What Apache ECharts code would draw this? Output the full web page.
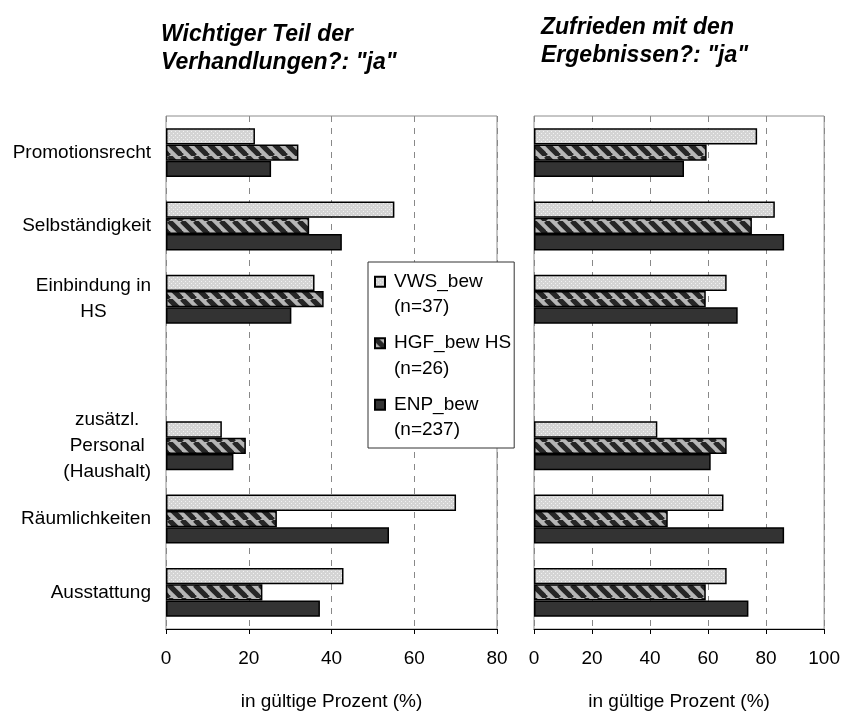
<!DOCTYPE html>
<html>
<head>
<meta charset="utf-8">
<script src="https://cdn.jsdelivr.net/npm/echarts@6/dist/echarts.min.js"></script>
<style>
  html, body { margin: 0; padding: 0; background: #fff; }
  #chart { width: 843px; height: 716px; }
</style>
</head>
<body>
<div id="chart"></div>
<script>
// Kategorien (die leere Kategorie ist die Lücke im Diagramm)
const categories = ['Promotionsrecht', 'Selbständigkeit', 'Einbindung in\nHS', '', 'zusätzl.\nPersonal\n(Haushalt)', 'Räumlichkeiten', 'Ausstattung']
const seriesNames = ['VWS_bew\n(n=37)', 'HGF_bew HS\n(n=26)', 'ENP_bew\n(n=237)']

// Wichtiger Teil der Verhandlungen?: "ja"
const wichtigVWS = [21.5, 55.2, 35.9, null, 13.5, 70.1, 42.9]
const wichtigHGF = [32.0, 34.6, 38.1, null, 19.3, 26.8, 23.3]
const wichtigENP = [25.4, 42.5, 30.3, null, 16.3, 53.9, 37.2]

// Zufrieden mit den Ergebnissen?: "ja"
const zufriedenVWS = [76.9, 83.0, 66.4, null, 42.5, 65.3, 66.4]
const zufriedenHGF = [59.5, 75.1, 59.2, null, 66.4, 46.1, 59.2]
const zufriedenENP = [51.7, 86.2, 70.2, null, 60.9, 86.2, 73.9]

const font = '"Liberation Sans", Arial, sans-serif'

// Füllmuster: gepunktet, schraffiert
const makeDots = () => {
  const c = document.createElement('canvas')
  c.width = 4
  c.height = 4
  const ctx = c.getContext('2d')
  ctx.fillStyle = '#d4d4d4'
  ctx.fillRect(0, 0, 4, 4)
  ctx.fillStyle = '#f2f2f2'
  ctx.fillRect(1, 1, 1, 1)
  ctx.fillRect(3, 3, 1, 1)
  return c
}
const makeStripes = () => {
  const p = 13
  const c = document.createElement('canvas')
  c.width = p
  c.height = p
  const ctx = c.getContext('2d')
  ctx.fillStyle = '#b6b6b6'
  ctx.fillRect(0, 0, p, p)
  ctx.strokeStyle = '#262626'
  ctx.lineWidth = 5.2
  for (let k = -1; k <= 1; k++) {
    ctx.beginPath()
    ctx.moveTo(k * p, 0)
    ctx.lineTo(k * p + p, p)
    ctx.stroke()
  }
  return c
}

const fills = [
  { image: makeDots(), repeat: 'repeat' },
  { image: makeStripes(), repeat: 'repeat' },
  '#333333',
]

const makeXAxis = (gridIndex, max) => ({
  gridIndex,
  type: 'value',
  min: 0,
  max,
  interval: 20,
  name: 'in gültige Prozent (%)',
  nameLocation: 'middle',
  nameGap: 63,
  nameTextStyle: { fontSize: 19, color: '#000', fontFamily: font },
  axisLine: { show: true, lineStyle: { color: '#000', width: 1 } },
  axisTick: { show: true, length: 5, lineStyle: { color: '#000' } },
  axisLabel: { fontSize: 19, color: '#000', fontFamily: font, margin: 20 },
  splitLine: { show: true, lineStyle: { color: '#888', type: [6, 6], width: 1 } },
})

const makeYAxis = (gridIndex, showLabels) => ({
  gridIndex,
  type: 'category',
  inverse: true,
  data: categories,
  axisLine: { show: false },
  axisTick: { show: false },
  axisLabel: {
    show: showLabels,
    margin: 15,
    formatter: (v) => (v ? '{c|' + v + '}' : ''),
    rich: {
      c: { align: 'center', fontSize: 19, lineHeight: 26, color: '#000', fontFamily: font },
    },
  },
})

const makeBar = (name, data, idx, axisIndex) => ({
  name,
  type: 'bar',
  xAxisIndex: axisIndex,
  yAxisIndex: axisIndex,
  data,
  barWidth: 16.3,
  barGap: '0%',
  itemStyle: { color: fills[idx], borderColor: '#000', borderWidth: 1.5 },
})

const chart = echarts.init(document.getElementById('chart'))
chart.setOption({
  animation: false,
  textStyle: { fontFamily: font },
  title: [
    {
      text: 'Wichtiger Teil der\nVerhandlungen?: "ja"',
      left: 156,
      top: 16,
      textStyle: { fontSize: 23, fontWeight: 'bold', fontStyle: 'italic', lineHeight: 28, color: '#000', fontFamily: font },
    },
    {
      text: 'Zufrieden mit den\nErgebnissen?: "ja"',
      left: 536,
      top: 9,
      textStyle: { fontSize: 23, fontWeight: 'bold', fontStyle: 'italic', lineHeight: 28, color: '#000', fontFamily: font },
    },
  ],
  legend: {
    data: seriesNames,
    orient: 'vertical',
    left: 368,
    top: 262,
    padding: [7, 3, 5, 6],
    itemGap: 10.5,
    itemWidth: 14,
    itemHeight: 35.5,
    icon: 'path://M0 0H10V10H0Z M14 35.5',
    backgroundColor: '#fff',
    borderColor: '#333',
    borderWidth: 1,
    borderRadius: 0,
    textStyle: { fontSize: 19, lineHeight: 25.5, color: '#000', fontFamily: font },
  },
  grid: [
    { left: 166, right: 346, top: 116, bottom: 85, show: true, borderColor: '#8c8c8c', borderWidth: 1 },
    { left: 534, right: 15.5, top: 116, bottom: 85, show: true, borderColor: '#8c8c8c', borderWidth: 1 },
  ],
  xAxis: [makeXAxis(0, 80), makeXAxis(1, 100)],
  yAxis: [makeYAxis(0, true), makeYAxis(1, false)],
  series: [
    makeBar(seriesNames[0], wichtigVWS, 0, 0),
    makeBar(seriesNames[1], wichtigHGF, 1, 0),
    makeBar(seriesNames[2], wichtigENP, 2, 0),
    makeBar(seriesNames[0], zufriedenVWS, 0, 1),
    makeBar(seriesNames[1], zufriedenHGF, 1, 1),
    makeBar(seriesNames[2], zufriedenENP, 2, 1),
  ],
})
</script>
</body>
</html>
